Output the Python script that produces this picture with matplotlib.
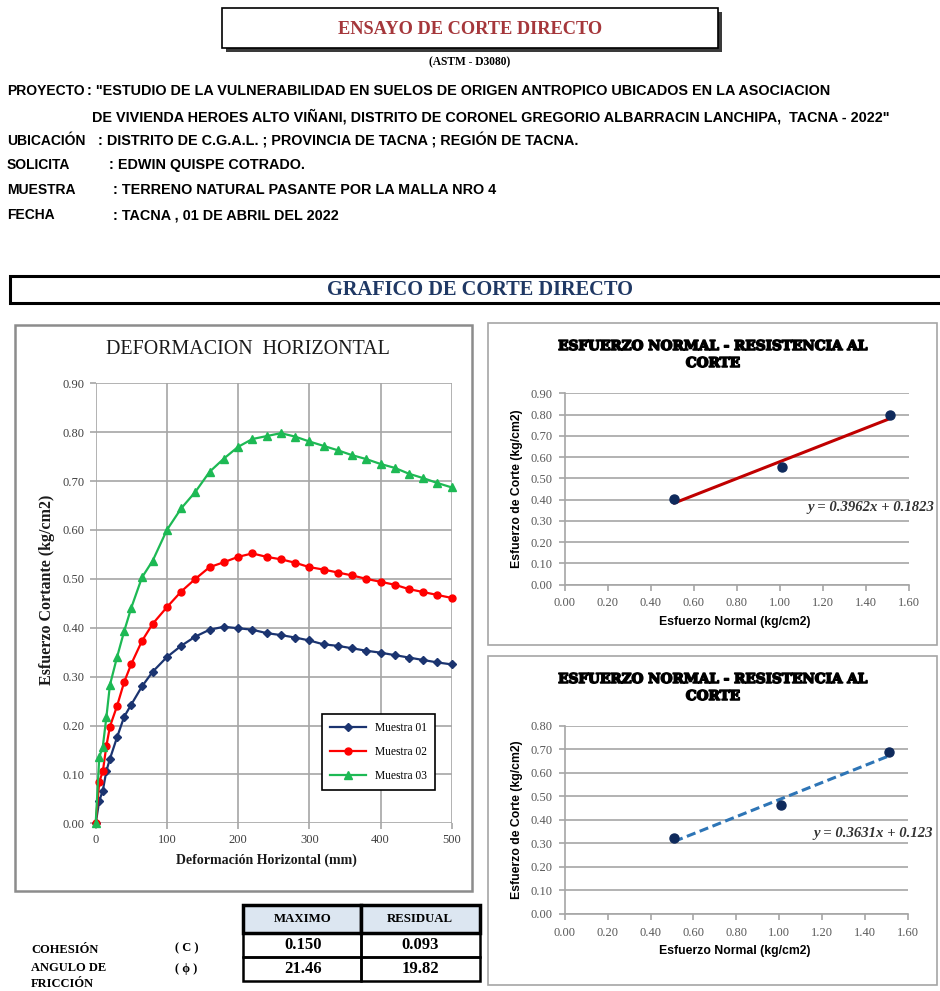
import matplotlib
matplotlib.use("Agg")
import matplotlib.pyplot as plt
from matplotlib.patches import Rectangle
from matplotlib.ticker import FormatStrFormatter
import matplotlib.patheffects as pe
import numpy as np

# Datos del ensayo
deformacion = [0, 5, 10, 15, 20, 30, 40, 50, 65, 80, 100, 120, 140, 160, 180, 200,
               220, 240, 260, 280, 300, 320, 340, 360, 380, 400, 420, 440, 460, 480, 500]
muestra_01 = [0, 0.046, 0.067, 0.107, 0.132, 0.176, 0.218, 0.243, 0.280, 0.310, 0.340,
              0.363, 0.382, 0.396, 0.402, 0.399, 0.396, 0.389, 0.385, 0.380, 0.374,
              0.366, 0.363, 0.358, 0.353, 0.349, 0.344, 0.339, 0.334, 0.329, 0.325]
muestra_02 = [0, 0.085, 0.106, 0.158, 0.198, 0.240, 0.289, 0.326, 0.373, 0.408, 0.442,
              0.474, 0.500, 0.524, 0.534, 0.545, 0.552, 0.545, 0.540, 0.533, 0.524,
              0.519, 0.513, 0.507, 0.500, 0.494, 0.488, 0.479, 0.473, 0.467, 0.461]
muestra_03 = [0, 0.135, 0.157, 0.217, 0.283, 0.340, 0.393, 0.441, 0.503, 0.537, 0.600,
              0.644, 0.678, 0.719, 0.746, 0.770, 0.786, 0.792, 0.798, 0.791, 0.781,
              0.772, 0.763, 0.753, 0.745, 0.735, 0.727, 0.715, 0.706, 0.696, 0.687]

esfuerzo_normal = [0.51, 1.01, 1.51]
corte_maximo = [0.402, 0.552, 0.798]
corte_residual = [0.325, 0.461, 0.687]
pendiente_max, intercepto_max = 0.3962, 0.1823
pendiente_res, intercepto_res = 0.3631, 0.123

tabla_columnas = ["MAXIMO", "RESIDUAL"]
cohesion = ["0.150", "0.093"]
friccion = ["21.46", "19.82"]

W, H = 940, 991
plt.rcParams['font.family'] = ['Liberation Serif', 'DejaVu Serif']

fig = plt.figure(figsize=(W / 100, H / 100), dpi=100)
bg = fig.add_axes([0, 0, 1, 1])
bg.set_xlim(0, W)
bg.set_ylim(H, 0)
bg.axis('off')


def add_ax(x0, y0, x1, y1):
    ax = fig.add_axes([x0 / W, 1 - y1 / H, (x1 - x0) / W, (y1 - y0) / H])
    ax.patch.set_visible(False)
    return ax


def rect(x0, y0, x1, y1, **kw):
    bg.add_patch(Rectangle((x0, y0), x1 - x0, y1 - y0, **kw))


# Encabezado
rect(226, 12, 722, 52, fc='#3a3a3a', ec='none')
rect(222, 8, 718, 48, fc='white', ec='black', lw=1.2)
bg.text(470, 29, "ENSAYO DE CORTE DIRECTO", ha='center', va='center',
        fontsize=13.2, fontweight='bold', color='#A5373B')
bg.text(470, 62, "(ASTM - D3080)", ha='center', va='center', fontsize=8.3, fontweight='bold')

etiqueta = dict(family='Liberation Sans', fontweight='bold', fontsize=10, va='baseline')
texto = dict(family='Liberation Sans', fontweight='bold', fontsize=10.4, va='baseline')
bg.text(7, 95, "PROYECTO", **etiqueta)
bg.text(87, 95, ': "ESTUDIO DE LA VULNERABILIDAD EN SUELOS DE ORIGEN ANTROPICO UBICADOS EN LA ASOCIACION', **texto)
bg.text(92, 121, 'DE VIVIENDA HEROES ALTO VIÑANI, DISTRITO DE CORONEL GREGORIO ALBARRACIN LANCHIPA,  TACNA - 2022"', **texto)
bg.text(7, 145, "UBICACIÓN", **etiqueta)
bg.text(98, 145, ": DISTRITO DE C.G.A.L. ; PROVINCIA DE TACNA ; REGIÓN DE TACNA.", **texto)
bg.text(7, 169, "SOLICITA", **etiqueta)
bg.text(109, 169, ": EDWIN QUISPE COTRADO.", **texto)
bg.text(7, 194, "MUESTRA", **etiqueta)
bg.text(113, 194, ": TERRENO NATURAL PASANTE POR LA MALLA NRO 4", **texto)
bg.text(7, 219, "FECHA", **etiqueta)
bg.text(113, 219, ": TACNA , 01 DE ABRIL DEL 2022", **texto)

rect(10, 276, 948, 303, fc='white', ec='black', lw=2.2)
bg.text(480, 290, "GRAFICO DE CORTE DIRECTO", ha='center', va='center',
        fontsize=14.7, fontweight='bold', color='#1F3864')

# Marcos de los graficos
rect(15, 325, 472, 891, fc='white', ec='#8c8c8c', lw=1.8)
rect(488, 323, 937, 645, fc='white', ec='#a6a6a6', lw=1.2)
rect(488, 656, 937, 985, fc='white', ec='#a6a6a6', lw=1.2)

# Grafico de deformacion horizontal
ax1 = add_ax(95.7, 383.3, 451.7, 823.3)
ax1.plot(deformacion, muestra_01, color='#1B3470', marker='D', ms=4, lw=1.6, label='Muestra 01', clip_on=False)
ax1.plot(deformacion, muestra_02, color='#FF0000', marker='o', ms=5, lw=1.6, label='Muestra 02', clip_on=False)
ax1.plot(deformacion, muestra_03, color='#1DB954', marker='^', ms=5.5, lw=1.6, label='Muestra 03', clip_on=False)
ax1.set_xlim(0, 500)
ax1.set_ylim(0, 0.9)
ax1.set_xticks(range(0, 501, 100))
ax1.set_yticks(np.arange(0, 0.91, 0.1))
ax1.yaxis.set_major_formatter(FormatStrFormatter('%.2f'))
ax1.grid(color='#a6a6a6', lw=1.2)
ax1.set_axisbelow(True)
for s in ax1.spines.values():
    s.set_visible(False)
ax1.tick_params(length=4, width=1.2, color='#a6a6a6', labelsize=9, labelcolor='#404040', pad=4)
leg = ax1.legend(loc='upper left', bbox_to_anchor=(322 / W, 1 - 714 / H), bbox_transform=fig.transFigure,
                 borderaxespad=0, fancybox=False, edgecolor='black', fontsize=8.3,
                 handlelength=3.1, labelspacing=1.05, borderpad=0.7, framealpha=1)
leg.get_frame().set_linewidth(1.2)
bg.text(248, 350, "DEFORMACION  HORIZONTAL", ha='center', va='center', fontsize=14.4, color='#1a1a1a')
bg.text(47, 590, "Esfuerzo Cortante (kg/cm2)", ha='center', va='center', rotation=90,
        fontsize=11.5, fontweight='bold', color='#1a1a1a')
bg.text(266, 860, "Deformación Horizontal (mm)", ha='center', va='center',
        fontsize=10, fontweight='bold', color='#1a1a1a')


# Graficos de esfuerzo normal - resistencia al corte
def grafico_corte(box, ymax, corte, m, b, estilo, color_linea, eq_pos, top):
    ax = add_ax(*box)
    xs = np.array([esfuerzo_normal[0], esfuerzo_normal[-1]])
    ax.plot(xs, m * xs + b, color=color_linea, lw=2.2, ls=estilo, zorder=2)
    ax.plot(esfuerzo_normal, corte, 'o', color='#0F2A5C', ms=6.5, zorder=3, clip_on=False)
    ax.set_xlim(0, 1.6)
    ax.set_ylim(0, ymax)
    ax.set_xticks(np.arange(0, 1.61, 0.2))
    ax.set_yticks(np.arange(0, ymax + 0.001, 0.1))
    ax.xaxis.set_major_formatter(FormatStrFormatter('%.2f'))
    ax.yaxis.set_major_formatter(FormatStrFormatter('%.2f'))
    ax.grid(axis='y', color='#a6a6a6', lw=1.2)
    ax.set_axisbelow(True)
    for side in ('top', 'right'):
        ax.spines[side].set_visible(False)
    for side in ('left', 'bottom'):
        ax.spines[side].set_color('#a6a6a6')
        ax.spines[side].set_linewidth(1.2)
    ax.tick_params(length=4, width=1.2, color='#a6a6a6', labelsize=9, labelcolor='#595959', pad=5)
    grueso = [pe.withStroke(linewidth=1.1, foreground='black')]
    bg.text(713, top + 23, "ESFUERZO NORMAL - RESISTENCIA AL", ha='center', va='center',
            family='DejaVu Serif', fontweight='heavy', fontsize=9.8, path_effects=grueso)
    bg.text(713, top + 40, "CORTE", ha='center', va='center',
            family='DejaVu Serif', fontweight='heavy', fontsize=9.8, path_effects=grueso)
    bg.text(517, (box[1] + box[3]) / 2, "Esfuerzo de Corte (kg/cm2)", ha='center', va='center',
            rotation=90, family='Liberation Sans', fontweight='bold', fontsize=8.8)
    bg.text(735, box[3] + 37, "Esfuerzo Normal (kg/cm2)", ha='center', va='center',
            family='Liberation Sans', fontweight='bold', fontsize=8.8)
    bg.text(eq_pos[0], eq_pos[1], f"y = {m}x + {b}", ha='left', va='center',
            fontsize=10.6, fontweight='bold', style='italic', color='#333333')
    return ax


grafico_corte((564.7, 393.3, 909, 584.7), 0.9, corte_maximo, pendiente_max, intercepto_max,
              '-', '#C00000', (807, 507), 323)
grafico_corte((564.7, 725.7, 908, 914), 0.8, corte_residual, pendiente_res, intercepto_res,
              (0, (3, 1.5)), '#2E75B6', (813, 833), 656)

# Tabla de resultados
rect(243, 905, 361, 933, fc='#DCE6F1', ec='black', lw=2.5)
rect(361, 905, 480, 933, fc='#DCE6F1', ec='black', lw=2.5)
for y0, y1 in [(933, 957), (957, 981)]:
    rect(243, y0, 361, y1, fc='none', ec='black', lw=1.8)
    rect(361, y0, 480, y1, fc='none', ec='black', lw=1.8)
for i, nombre in enumerate(tabla_columnas):
    cx = 303 + i * 117
    bg.text(cx, 919, nombre, ha='center', va='center', fontsize=9.2, fontweight='bold')
    bg.text(cx, 945, cohesion[i], ha='center', va='center', fontsize=12, fontweight='bold')
    bg.text(cx, 969, friccion[i], ha='center', va='center', fontsize=12, fontweight='bold')
bg.text(31, 953, "COHESIÓN", va='baseline', fontsize=9, fontweight='bold')
bg.text(31, 971, "ANGULO DE", va='baseline', fontsize=9, fontweight='bold')
bg.text(31, 987, "FRICCIÓN", va='baseline', fontsize=9, fontweight='bold')
bg.text(175, 951, "( C )", va='baseline', fontsize=9, fontweight='bold')
bg.text(175, 972, "( ϕ )", va='baseline', fontsize=9, fontweight='bold')

fig.savefig("out.png", dpi=100)
